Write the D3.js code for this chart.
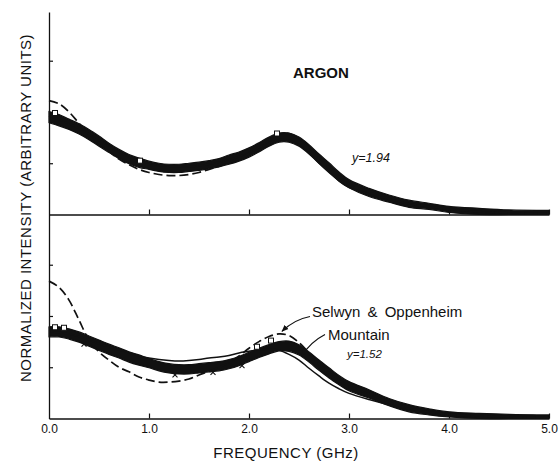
<!DOCTYPE html>
<html>
<head>
<meta charset="utf-8">
<script src="https://cdn.jsdelivr.net/npm/d3@7"></script>
<style>
  html, body { margin: 0; padding: 0; background: #fff; }
  svg { display: block; }
  text { font-family: "Liberation Sans", Arial, Helvetica, sans-serif; fill: #111; }
</style>
</head>
<body>
<svg id="chart" width="560" height="462"></svg>
<script>
// ---------------- data ----------------
const freq = [0,0.1,0.2,0.3,0.4,0.5,0.6,0.7,0.8,0.9,1.0,1.1,1.2,1.3,1.4,1.5,1.6,1.7,1.8,1.9,
              2.0,2.1,2.2,2.3,2.4,2.5,2.6,2.7,2.8,2.9,3.0,3.2,3.4,3.6,3.8,4.0,4.3,4.6,5.0];

// ARGON, y = 1.94 (upper panel)
const upperMeasured = [1.90,1.84,1.76,1.67,1.56,1.43,1.30,1.18,1.08,1.01,0.96,0.92,0.90,0.90,0.92,0.94,0.97,1.01,1.07,1.13,
                       1.21,1.31,1.42,1.50,1.50,1.42,1.27,1.09,0.92,0.74,0.60,0.43,0.31,0.21,0.16,0.10,0.06,0.03,0.02];
const upperSpread   = [0.11,0.11,0.10,0.10,0.10,0.10,0.09,0.09,0.09,0.09,0.08,0.08,0.08,0.08,0.08,0.08,0.08,0.08,0.09,0.09,
                       0.09,0.09,0.09,0.09,0.09,0.09,0.09,0.09,0.09,0.09,0.08,0.08,0.07,0.07,0.06,0.06,0.06,0.06,0.06];
const upperMountain = [1.92,1.85,1.77,1.68,1.57,1.45,1.33,1.22,1.12,1.05,1.00,0.96,0.94,0.93,0.93,0.95,0.98,1.02,1.07,1.13,
                       1.21,1.30,1.40,1.46,1.45,1.36,1.20,1.00,0.82,0.66,0.53,0.40,0.30,0.21,0.15,0.10,0.05,0.03,0.02];
const upperSelwyn   = [2.22,2.16,2.00,1.78,1.57,1.40,1.23,1.08,0.97,0.88,0.82,0.78,0.76,0.76,0.78,0.82,0.88,0.94,1.01,1.09,
                       1.19,1.31,1.44,1.56,1.58,1.48,1.31,1.11,0.92,0.74,0.60,0.43,0.31,0.21,0.16,0.10,0.06,0.03,0.02];

// y = 1.52 (lower panel)
const lowerMeasured = [1.69,1.69,1.65,1.59,1.51,1.43,1.35,1.28,1.20,1.14,1.08,1.02,0.98,0.96,0.96,0.98,1.00,1.02,1.06,1.12,
                       1.20,1.28,1.35,1.41,1.41,1.34,1.20,1.04,0.89,0.75,0.63,0.48,0.32,0.20,0.13,0.08,0.05,0.03,0.02];
const lowerSpread   = [0.10,0.10,0.10,0.10,0.10,0.10,0.10,0.10,0.10,0.10,0.09,0.09,0.09,0.09,0.09,0.09,0.09,0.09,0.09,0.09,
                       0.09,0.09,0.09,0.09,0.10,0.10,0.10,0.10,0.10,0.09,0.09,0.08,0.07,0.07,0.06,0.05,0.05,0.05,0.05];
const lowerMountain = [1.69,1.68,1.65,1.60,1.53,1.46,1.40,1.34,1.28,1.22,1.18,1.15,1.13,1.12,1.13,1.15,1.18,1.20,1.23,1.28,
                       1.31,1.34,1.35,1.33,1.25,1.14,0.98,0.83,0.69,0.58,0.49,0.37,0.27,0.19,0.13,0.08,0.04,0.03,0.02];
const lowerSelwyn   = [2.68,2.56,2.31,1.92,1.53,1.30,1.14,1.00,0.91,0.81,0.75,0.71,0.71,0.73,0.77,0.85,0.92,1.00,1.09,1.22,
                       1.37,1.50,1.60,1.65,1.62,1.48,1.28,1.06,0.89,0.75,0.63,0.48,0.32,0.20,0.13,0.08,0.05,0.03,0.02];

// a few stray measured symbols outside the dense band
const upperSquares = [[0.91,1.05],[0.06,1.98],[2.28,1.58]];
const lowerSquares = [[0.06,1.78],[0.15,1.77],[2.08,1.40],[2.22,1.52]];
const lowerCrosses = [[1.26,0.85],[1.64,0.90],[1.93,1.03],[0.35,1.45]];

const xTickValues = [0,1,2,3,4,5];
const yTickValues = [1,2,3];

// annotations, in data coordinates (frequency, intensity)
const panelTitle   = {text: "ARGON",  f: 2.44, v: 2.66};
const upperGamma   = {text: "y=1.94", f: 3.03, v: 1.02};
const lowerGamma   = {text: "y=1.52", f: 2.98, v: 1.18};
const selwynLabel  = {text: "Selwyn & Oppenheim", f: 2.63, v: 1.98, from: [2.61, 1.99], via: [2.45, 1.93], to: [2.33, 1.70]};
const mountainLabel= {text: "Mountain", f: 2.79, v: 1.53, from: [2.76, 1.64], via: [2.62, 1.50], to: [2.53, 1.23]};

// ---------------- drawing ----------------
const svg = d3.select("#chart");
const ink = "#111";

const x = d3.scaleLinear().domain([0, 5]).range([49, 549]);
const yUp = d3.scaleLinear().domain([0, 3.95]).range([214.5, 12]);
const yLo = d3.scaleLinear().domain([0, 3.98]).range([418.5, 214.5]);

svg.append("rect").attr("width", 560).attr("height", 462).attr("fill", "#fff");

function drawPanel(y, measured, spread, mountain, selwyn) {
  const g = svg.append("g");
  const pts = freq.map((f, i) => ({f, m: measured[i], s: spread[i], mo: mountain[i], se: selwyn[i]}));

  // dense measured band
  g.append("path")
    .datum(pts)
    .attr("d", d3.area()
      .x(d => x(d.f))
      .y0(d => y(Math.max(0, d.m - d.s)))
      .y1(d => y(d.m + d.s))
      .curve(d3.curveCatmullRom))
    .attr("fill", ink)
    .attr("stroke", ink)
    .attr("stroke-width", 1.2)
    .attr("stroke-linejoin", "round");

  // Mountain theory (solid)
  g.append("path")
    .datum(pts)
    .attr("d", d3.line().x(d => x(d.f)).y(d => y(d.mo)).curve(d3.curveCatmullRom))
    .attr("fill", "none").attr("stroke", ink).attr("stroke-width", 1.5);

  // Selwyn & Oppenheim theory (dashed)
  g.append("path")
    .datum(pts)
    .attr("d", d3.line().x(d => x(d.f)).y(d => y(d.se)).curve(d3.curveCatmullRom))
    .attr("fill", "none").attr("stroke", ink).attr("stroke-width", 1.7)
    .attr("stroke-dasharray", "9,4");
  return g;
}

drawPanel(yUp, upperMeasured, upperSpread, upperMountain, upperSelwyn);
drawPanel(yLo, lowerMeasured, lowerSpread, lowerMountain, lowerSelwyn);

// stray symbols
function squares(data, y) {
  svg.append("g").selectAll("rect").data(data).join("rect")
    .attr("x", d => x(d[0]) - 2.5).attr("y", d => y(d[1]) - 2.5)
    .attr("width", 5).attr("height", 5)
    .attr("fill", "#fff").attr("stroke", ink).attr("stroke-width", 1);
}
squares(upperSquares, yUp);
squares(lowerSquares, yLo);
svg.append("g").selectAll("path").data(lowerCrosses).join("path")
  .attr("d", d => {
    const cx = x(d[0]), cy = yLo(d[1]);
    return `M${cx-2.5},${cy-2.5}L${cx+2.5},${cy+2.5}M${cx-2.5},${cy+2.5}L${cx+2.5},${cy-2.5}`;
  })
  .attr("stroke", ink).attr("stroke-width", 1.1);

// axes
function styleAxis(sel) {
  sel.selectAll("path.domain").attr("stroke", ink).attr("stroke-width", 1.3);
  sel.selectAll(".tick line").attr("stroke", ink).attr("stroke-width", 1.2);
}
// x baselines with upward ticks
[[yUp, 214.5], [yLo, 418.5]].forEach(([y, base]) => {
  svg.append("g")
    .attr("transform", `translate(0,${base})`)
    .call(d3.axisTop(x).tickValues([1,2,3,4,5]).tickSize(5).tickSizeOuter(0).tickFormat(""))
    .call(styleAxis);
});
// left axis with inward ticks
svg.append("g").attr("transform", "translate(49,0)")
  .call(d3.axisRight(yUp).tickValues(yTickValues).tickSize(4).tickSizeOuter(0).tickFormat(""))
  .call(styleAxis);
svg.append("g").attr("transform", "translate(49,0)")
  .call(d3.axisRight(yLo).tickValues(yTickValues).tickSize(4).tickSizeOuter(0).tickFormat(""))
  .call(styleAxis);

// x tick labels
const xl = svg.append("g").attr("transform", "translate(0,418.5)")
  .call(d3.axisBottom(x).tickValues(xTickValues).tickSize(0).tickPadding(6).tickFormat(d3.format(".1f")));
xl.select("path.domain").remove();
xl.selectAll("text").attr("font-size", 12).attr("fill", ink)
  .attr("font-family", "'Liberation Sans', Arial, sans-serif");

// axis titles
svg.append("text")
  .attr("x", 286).attr("y", 458)
  .attr("text-anchor", "middle")
  .attr("font-size", 15).attr("letter-spacing", 0.5)
  .text("FREQUENCY (GHz)");

svg.append("text")
  .attr("transform", "translate(31,208) rotate(-90)")
  .attr("text-anchor", "middle")
  .attr("font-size", 15).attr("letter-spacing", 0.5)
  .text("NORMALIZED INTENSITY (ARBITRARY UNITS)");

// annotations
svg.append("text").attr("x", x(panelTitle.f)).attr("y", yUp(panelTitle.v))
  .attr("font-size", 15).attr("font-weight", "bold").text(panelTitle.text);

svg.append("text").attr("x", x(upperGamma.f)).attr("y", yUp(upperGamma.v))
  .attr("font-size", 12.5).attr("font-style", "italic").text(upperGamma.text);
svg.append("text").attr("x", x(lowerGamma.f)).attr("y", yLo(lowerGamma.v))
  .attr("font-size", 11.5).attr("font-style", "italic").text(lowerGamma.text);

svg.append("defs").append("marker")
  .attr("id", "arrow").attr("viewBox", "0 0 10 10")
  .attr("refX", 9).attr("refY", 5)
  .attr("markerWidth", 7).attr("markerHeight", 7)
  .attr("markerUnits", "userSpaceOnUse")
  .attr("orient", "auto")
  .append("path").attr("d", "M0,1L10,5L0,9Z").attr("fill", ink);

[selwynLabel, mountainLabel].forEach(a => {
  svg.append("text").attr("x", x(a.f)).attr("y", yLo(a.v))
    .attr("font-size", 15).attr("word-spacing", 3).text(a.text);
  svg.append("path")
    .attr("d", `M${x(a.from[0])},${yLo(a.from[1])}Q${x(a.via[0])},${yLo(a.via[1])} ${x(a.to[0])},${yLo(a.to[1])}`)
    .attr("fill", "none").attr("stroke", ink).attr("stroke-width", 1.2)
    .attr("marker-end", "url(#arrow)");
});
</script>
</body>
</html>
